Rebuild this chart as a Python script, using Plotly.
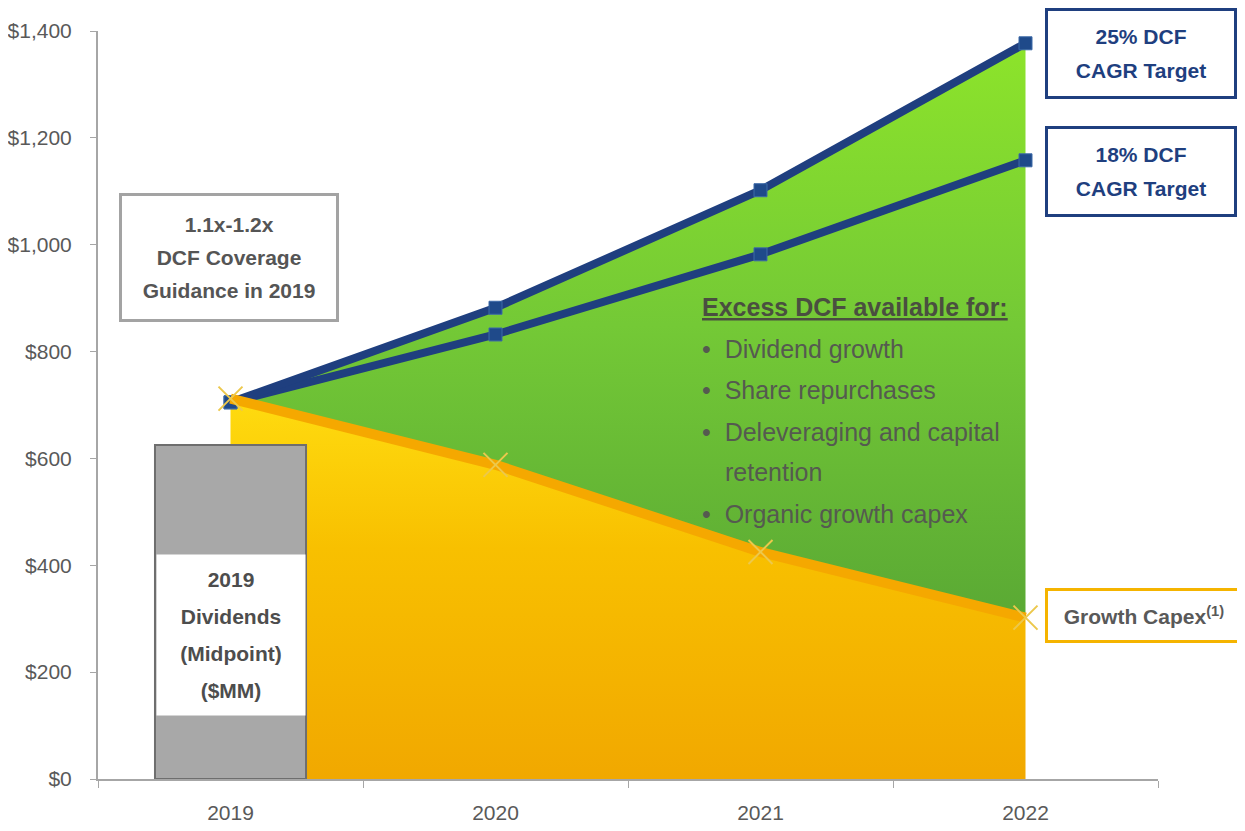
import plotly.graph_objects as go

years = ["2019", "2020", "2021", "2022"]
dcf_25 = [705, 882, 1102, 1377]
dcf_18 = [705, 832, 982, 1158]
growth_capex = [712, 588, 425, 302]
dividends_2019 = 625
y_ticks = [0, 200, 400, 600, 800, 1000, 1200, 1400]
y_tick_text = [f"${v:,}" for v in y_ticks]

excess_heading = "Excess DCF available for:"
excess_items = ["Dividend growth", "Share repurchases", "Deleveraging and capital", "retention", "Organic growth capex"]

FONT = "Liberation Sans, Arial, sans-serif"
NAVY = "#1f3f7f"
GRAY_TXT = "#595959"


def lines(parts, size):
    # plotly spaces lines by the annotation font size, so shrink the glyphs inside
    return "<br>".join(f"<span style='font-size:{size}px'>{p}</span>" for p in parts)


fig = go.Figure()

# yellow area under growth capex
fig.add_trace(go.Scatter(
    x=years, y=growth_capex, fill="tozeroy", mode="none",
    fillgradient=dict(type="vertical", start=0, stop=720,
                      colorscale=[[0, "#f1a800"], [0.6, "#f8c000"], [1, "#ffdc10"]]),
    hoverinfo="skip"))
# green area up to the 25% line
fig.add_trace(go.Scatter(
    x=years, y=dcf_25, fill="tonexty", mode="none",
    fillgradient=dict(type="vertical", start=300, stop=1400,
                      colorscale=[[0, "#5aa934"], [0.5, "#74c936"], [1, "#8ee52a"]]),
    hoverinfo="skip"))

for vals in [dcf_18, dcf_25]:
    fig.add_trace(go.Scatter(
        x=years, y=vals, mode="lines+markers",
        line=dict(color=NAVY, width=8),
        marker=dict(symbol="square", size=13, color="#1f4a8a", line=dict(color="#3d6aa8", width=1))))

fig.add_trace(go.Scatter(
    x=years, y=growth_capex, mode="lines+markers",
    line=dict(color="#f5a800", width=10),
    marker=dict(symbol="x-thin", size=24, color="#ecc84c", line=dict(color="#ecc84c", width=2))))

# dividends bar sits on an overlaid axis so it draws above the area fills
fig.add_trace(go.Bar(
    x=["2019"], y=[dividends_2019], xaxis="x2", width=0.57,
    marker=dict(color="#a8a8a8", line=dict(color="#6e6e6e", width=2))))

# body has an 8px margin in the page, so the figure is 8px smaller
fig.update_layout(
    width=1237, height=823,
    margin=dict(l=90, r=87, t=23, b=52),
    paper_bgcolor="white", plot_bgcolor="white",
    showlegend=False,
    font=dict(family=FONT, color=GRAY_TXT, size=21),
    xaxis=dict(type="category", categoryarray=years, range=[-0.5, 3.5], automargin=False,
               showline=True, linecolor="#a6a6a6", linewidth=2,
               ticks="outside", tickson="boundaries", ticklen=7, tickcolor="#a6a6a6",
               showgrid=False, tickfont=dict(size=21, color=GRAY_TXT), ticklabelstandoff=14),
    xaxis2=dict(type="category", categoryarray=years, range=[-0.5, 3.5],
                overlaying="x", visible=False),
    yaxis=dict(range=[0, 1400], tickvals=y_ticks, ticktext=y_tick_text, automargin=False,
               showline=True, linecolor="#a6a6a6", linewidth=2,
               ticks="outside", ticklen=6, tickcolor="#a6a6a6",
               showgrid=False, zeroline=False, tickfont=dict(size=21, color=GRAY_TXT),
               ticklabelstandoff=14),
)

box = dict(showarrow=False, xanchor="center", yanchor="middle", borderpad=0)

# bar label on white band
fig.add_annotation(x=years.index("2019"), y=270, xref="x", yref="y", **box,
                   text=lines(["<b>2019</b>", "<b>Dividends</b>", "<b>(Midpoint)</b>", "<b>($MM)</b>"], 21),
                   font=dict(size=28.5, color="#4d4d4d"),
                   bgcolor="white", width=148, height=160)

# coverage box
fig.add_annotation(x=0.1236, y=0.697, xref="paper", yref="paper", **box,
                   text=lines(["<b>1.1x-1.2x</b>", "<b>DCF Coverage</b>", "<b>Guidance in 2019</b>"], 21),
                   font=dict(size=25.5, color="#555555"),
                   bgcolor="white", bordercolor="#a3a3a3", borderwidth=3,
                   width=214, height=123)

# target boxes
for txt, yp in [(["<b>25% DCF</b>", "<b>CAGR Target</b>"], 0.970),
                (["<b>18% DCF</b>", "<b>CAGR Target</b>"], 0.8115)]:
    fig.add_annotation(x=0.984, y=yp, xref="paper", yref="paper", **box,
                       text=lines(txt, 21), font=dict(size=26, color=NAVY),
                       bgcolor="white", bordercolor=NAVY, borderwidth=3,
                       width=186, height=85)

fig.add_annotation(x=0.987, y=0.2186, xref="paper", yref="paper", **box,
                   text="<b>Growth Capex<sup>(1)</sup></b>", font=dict(size=21, color=GRAY_TXT),
                   bgcolor="white", bordercolor="#f5b400", borderwidth=3,
                   width=192, height=49)

# excess DCF text
fig.add_annotation(x=0.568, y=0.631, xref="paper", yref="paper", showarrow=False,
                   xanchor="left", yanchor="middle", text=f"<b><u>{excess_heading}</u></b>",
                   font=dict(size=25, color="#4a4f40"))
item_y = [0.575, 0.520, 0.464, 0.410, 0.354]
for item, yp in zip(excess_items, item_y):
    if item == "retention":
        fig.add_annotation(x=0.590, y=yp, xref="paper", yref="paper", showarrow=False,
                           xanchor="left", yanchor="middle", text=item,
                           font=dict(size=25, color="#555a50"))
    else:
        fig.add_annotation(x=0.568, y=yp, xref="paper", yref="paper", showarrow=False,
                           xanchor="left", yanchor="middle", text="•  " + item,
                           font=dict(size=25, color="#555a50"))

fig.write_html("out.html")
